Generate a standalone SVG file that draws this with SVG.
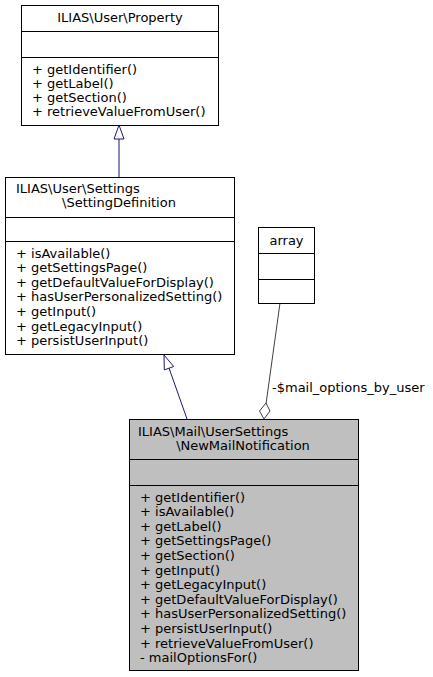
<svg xmlns="http://www.w3.org/2000/svg" width="433" height="677" viewBox="0 0 433 677">
<style>
text{font-family:"DejaVu Sans",sans-serif;font-size:13px;fill:#000}
.box{fill:#fff;stroke:#000;stroke-width:1}
.sep{stroke:#000;stroke-width:1}
.mid{text-anchor:middle}
.inh{stroke:#191970;stroke-width:1;fill:none}
.agg{stroke:#404040;stroke-width:1;fill:none}
</style>
<rect width="433" height="677" fill="#fff"/>
<g id="connectors">
<line class="inh" x1="119" y1="177" x2="119" y2="139"/>
<polygon class="inh" fill="#fff" points="119,125 114,139 124,139" style="fill:#fff"/>
<line class="inh" x1="187" y1="419" x2="169" y2="368"/>
<polygon class="inh" points="164,355 164.3,369.9 173.7,366.5" style="fill:#fff"/>
<line class="agg" x1="280" y1="303" x2="266" y2="404"/>
<polygon class="agg" points="264,419 259.5,411 266,403 270,411" style="fill:#fff"/>
<text x="272" y="391.5">-$mail_options_by_user</text>
</g>
<g id="node_property">
<rect class="box" x="21.5" y="5.5" width="197" height="120"/>
<line class="sep" x1="21.5" y1="31.5" x2="218.5" y2="31.5"/>
<line class="sep" x1="21.5" y1="57.5" x2="218.5" y2="57.5"/>
<text class="mid" x="120" y="22">ILIAS\User\Property</text>
<text x="32" y="73.5">+ getIdentifier()</text>
<text x="32" y="87.5">+ getLabel()</text>
<text x="32" y="101.5">+ getSection()</text>
<text x="32" y="115.5">+ retrieveValueFromUser()</text>
</g>
<g id="node_settingdefinition">
<rect class="box" x="5.5" y="177.5" width="229" height="177"/>
<line class="sep" x1="5.5" y1="217.5" x2="234.5" y2="217.5"/>
<line class="sep" x1="5.5" y1="241.5" x2="234.5" y2="241.5"/>
<text x="16" y="192.5">ILIAS\User\Settings</text>
<text class="mid" x="119" y="206.5">\SettingDefinition</text>
<text x="16" y="257.5">+ isAvailable()</text>
<text x="16" y="272.1">+ getSettingsPage()</text>
<text x="16" y="286.7">+ getDefaultValueForDisplay()</text>
<text x="16" y="301.3">+ hasUserPersonalizedSetting()</text>
<text x="16" y="315.9">+ getInput()</text>
<text x="16" y="330.5">+ getLegacyInput()</text>
<text x="16" y="345.1">+ persistUserInput()</text>
</g>
<g id="node_array">
<rect class="box" x="258.5" y="227.5" width="56" height="76"/>
<line class="sep" x1="258.5" y1="253.5" x2="314.5" y2="253.5"/>
<line class="sep" x1="258.5" y1="279.5" x2="314.5" y2="279.5"/>
<text class="mid" x="286.5" y="244.5">array</text>
</g>
<g id="node_newmailnotification">
<rect class="box" x="129.5" y="419.5" width="229" height="251" style="fill:#bfbfbf"/>
<line class="sep" x1="129.5" y1="459.5" x2="358.5" y2="459.5"/>
<line class="sep" x1="129.5" y1="485.5" x2="358.5" y2="485.5"/>
<text x="138" y="435.5">ILIAS\Mail\UserSettings</text>
<text class="mid" x="243" y="449.5">\NewMailNotification</text>
<text x="140" y="501.5">+ getIdentifier()</text>
<text x="140" y="516.1">+ isAvailable()</text>
<text x="140" y="530.7">+ getLabel()</text>
<text x="140" y="545.3">+ getSettingsPage()</text>
<text x="140" y="559.9">+ getSection()</text>
<text x="140" y="574.5">+ getInput()</text>
<text x="140" y="589.1">+ getLegacyInput()</text>
<text x="140" y="603.7">+ getDefaultValueForDisplay()</text>
<text x="140" y="618.3">+ hasUserPersonalizedSetting()</text>
<text x="140" y="632.9">+ persistUserInput()</text>
<text x="140" y="647.5">+ retrieveValueFromUser()</text>
<text x="140" y="662.1">- mailOptionsFor()</text>
</g>
</svg>
